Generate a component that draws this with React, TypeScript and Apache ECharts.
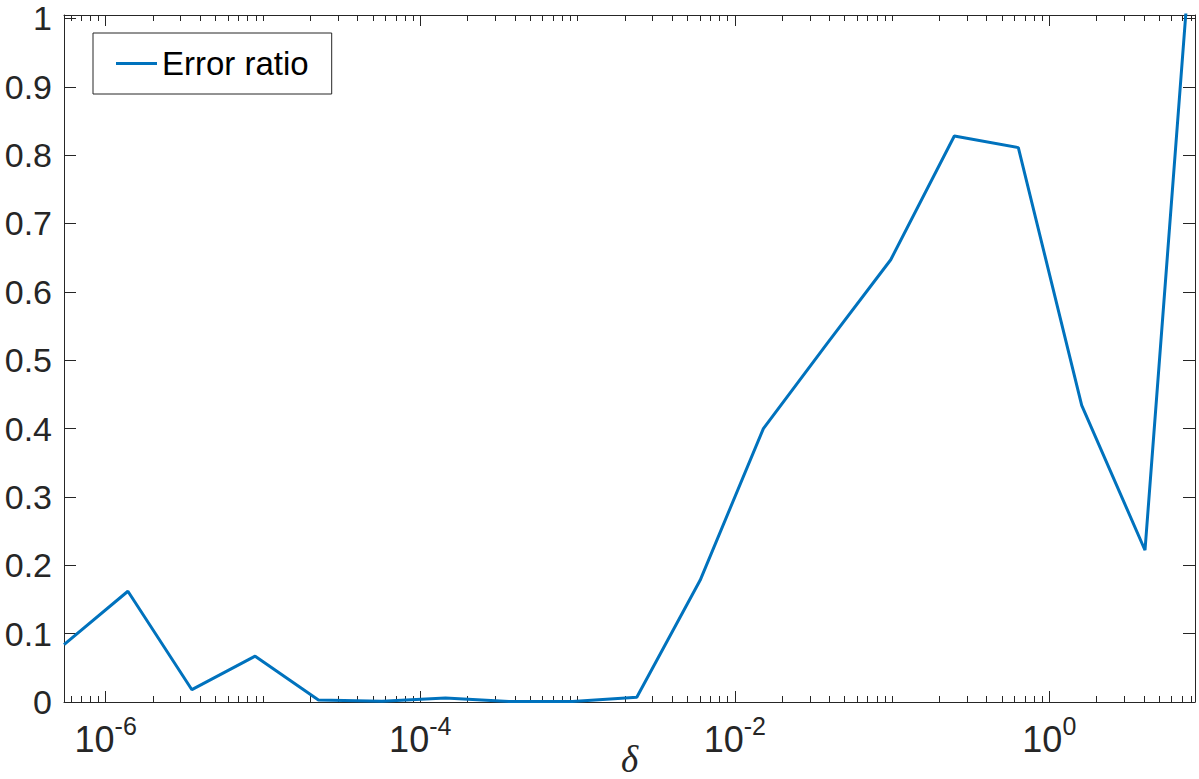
import React, { useEffect, useRef } from "react";
import * as echarts from "echarts";

// δ values (x, log scale) and error ratio (y)
const delta = [
  5.43e-7, 1.384e-6, 3.532e-6, 8.92e-6, 2.253e-5, 5.71e-5, 1.446e-4, 3.664e-4,
  9.28e-4, 2.382e-3, 6.02e-3, 1.52e-2, 3.85e-2, 9.81e-2, 0.2489, 0.6353, 1.607,
  4.059, 10.03,
];
const errorRatio = [
  0.084, 0.162, 0.018, 0.067, 0.003, 0.001, 0.006, 0.0008, 0.0008, 0.007, 0.178,
  0.4, 0.524, 0.647, 0.828, 0.811, 0.434, 0.222, 1.41,
];

const seriesName = "Error ratio";
const xLimits = [5.43e-7, 8.44];
const yLimits = [0, 1.005];
const xMajorDecades = [-6, -4, -2, 0];
const xMinorDecades = [-7, -6, -5, -4, -3, -2, -1, 0];
const xMinorMultipliers = [1, 2, 3, 4, 5, 6, 7, 8, 9];
const yTicks = [0, 0.1, 0.2, 0.3, 0.4, 0.5, 0.6, 0.7, 0.8, 0.9, 1];

const SANS = "'Liberation Sans', Arial, Helvetica, sans-serif";
const AX = "#262626";
const LINE = "#0072BD";

export default function App() {
  const ref = useRef<HTMLDivElement>(null);

  useEffect(() => {
    if (!ref.current) return;
    const chart = echarts.init(ref.current, null, { renderer: "svg" });

    const xMin = Math.log10(xLimits[0]);
    const xMax = Math.log10(xLimits[1]);
    const minorTicks: number[] = [];
    xMinorDecades.forEach((k) =>
      xMinorMultipliers.forEach((n) => {
        const lv = Math.log10(n) + k;
        if (lv >= xMin && lv <= xMax) minorTicks.push(lv);
      })
    );

    const baseX = {
      type: "value" as const,
      min: xMin,
      max: xMax,
      splitLine: { show: false },
    };

    const option: any = {
      animation: false,
      grid: {
        left: 64,
        top: 15,
        width: 1131,
        height: 687,
        containLabel: false,
        outerBoundsMode: "none",
      },
      legend: {
        left: 93,
        top: 33,
        padding: [14, 23, 14, 23],
        itemWidth: 41,
        itemHeight: 3,
        icon: "rect",
        borderColor: AX,
        borderWidth: 1,
        borderRadius: 0,
        backgroundColor: "#fff",
        textStyle: { fontSize: 33, color: "#000", fontFamily: SANS },
        data: [{ name: seriesName, icon: "rect" }],
      },
      xAxis: [
        {
          ...baseX,
          position: "bottom",
          axisLine: { show: true, onZero: false, lineStyle: { color: AX, width: 1 } },
          axisTick: {
            show: true,
            inside: true,
            length: 11,
            customValues: xMajorDecades,
            lineStyle: { color: AX, width: 1 },
          },
          axisLabel: {
            show: true,
            margin: 17,
            customValues: xMajorDecades,
            formatter: (v: number) => `{base|10}{sup|${Math.round(v)}}`,
            rich: {
              base: {
                fontSize: 36,
                fontFamily: SANS,
                color: AX,
                lineHeight: 40,
              },
              sup: {
                fontSize: 25,
                fontFamily: SANS,
                color: AX,
                lineHeight: 25,
                padding: [0, 0, 27, 0],
              },
            },
          },
          name: "δ",
          nameLocation: "middle",
          nameGap: 44,
          nameMoveOverlap: false,
          nameTextStyle: {
            fontFamily: "'Liberation Serif', 'DejaVu Serif', serif",
            fontStyle: "italic",
            fontSize: 37,
            lineHeight: 26,
            verticalAlign: "top",
            color: AX,
          },
        },
        {
          ...baseX,
          position: "bottom",
          axisLine: { show: false, onZero: false },
          axisTick: {
            show: true,
            inside: true,
            length: 6,
            customValues: minorTicks,
            lineStyle: { color: AX, width: 1 },
          },
          axisLabel: { show: false },
        },
        {
          ...baseX,
          position: "top",
          axisLine: { show: true, onZero: false, lineStyle: { color: AX, width: 1 } },
          axisTick: {
            show: true,
            inside: true,
            length: 11,
            customValues: xMajorDecades,
            lineStyle: { color: AX, width: 1 },
          },
          axisLabel: { show: false },
        },
        {
          ...baseX,
          position: "top",
          axisLine: { show: false, onZero: false },
          axisTick: {
            show: true,
            inside: true,
            length: 6,
            customValues: minorTicks,
            lineStyle: { color: AX, width: 1 },
          },
          axisLabel: { show: false },
        },
      ],
      yAxis: [
        {
          type: "value",
          position: "left",
          min: yLimits[0],
          max: yLimits[1],
          splitLine: { show: false },
          axisLine: { show: true, onZero: false, lineStyle: { color: AX, width: 1 } },
          axisTick: {
            show: true,
            inside: true,
            length: 12,
            customValues: yTicks,
            lineStyle: { color: AX, width: 1 },
          },
          axisLabel: {
            show: true,
            margin: 12,
            customValues: yTicks,
            fontSize: 34,
            fontFamily: SANS,
            color: AX,
            formatter: (v: number) => String(Math.round(v * 10) / 10),
          },
        },
        {
          type: "value",
          position: "right",
          min: yLimits[0],
          max: yLimits[1],
          splitLine: { show: false },
          axisLine: { show: true, onZero: false, lineStyle: { color: AX, width: 1 } },
          axisTick: {
            show: true,
            inside: true,
            length: 12,
            customValues: yTicks,
            lineStyle: { color: AX, width: 1 },
          },
          axisLabel: { show: false },
        },
      ],
      series: [
        {
          name: seriesName,
          type: "line",
          xAxisIndex: 0,
          yAxisIndex: 0,
          clip: true,
          showSymbol: false,
          symbol: "none",
          lineStyle: { color: LINE, width: 3 },
          itemStyle: { color: LINE },
          data: delta.map((d, i) => [Math.log10(d), errorRatio[i]]),
        },
      ],
    };

    chart.setOption(option);
    return () => chart.dispose();
  }, []);

  return (
    <div
      ref={ref}
      style={{ position: "absolute", left: 0, top: 0, width: 1199, height: 779, background: "#fff" }}
    />
  );
}
